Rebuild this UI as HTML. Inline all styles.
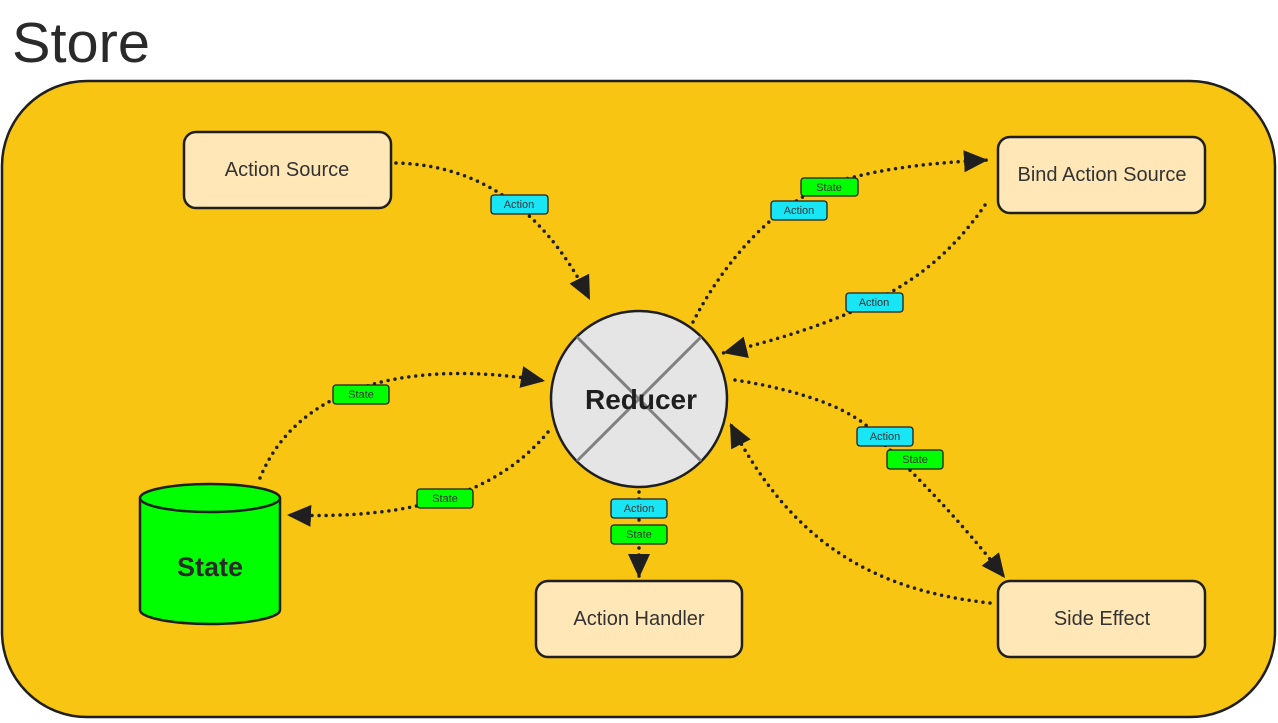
<!DOCTYPE html>
<html><head><meta charset="utf-8"><style>
html,body{margin:0;padding:0;background:#fff;width:1278px;height:723px;overflow:hidden}
svg{display:block}
text{font-family:"Liberation Sans",sans-serif}
</style></head><body>
<svg width="1278" height="723" viewBox="0 0 1278 723" xmlns="http://www.w3.org/2000/svg">
<defs>
<marker id="a" markerUnits="userSpaceOnUse" markerWidth="26" markerHeight="26" viewBox="0 0 26 26" refX="24" refY="13" orient="auto">
<path d="M0,2 L24,13 L0,24 Z" fill="#1f1f1f"/>
</marker>
</defs>
<text x="12" y="62" font-size="57" fill="#2a2a2a" textLength="138" lengthAdjust="spacingAndGlyphs">Store</text>
<rect x="2" y="81" width="1273" height="636" rx="85" fill="#F8C513" stroke="#1f1f1f" stroke-width="2.5"/>
<g fill="none" stroke="#1f1f1f" stroke-width="3.5" stroke-linecap="round" stroke-dasharray="0 7">
<path d="M396,163 C470,165 540,200 590,300" marker-end="url(#a)"/>
<path d="M693,322 C730,250 790,190 850,178 C900,165 950,162 988,160" marker-end="url(#a)"/>
<path d="M985,205 C940,270 880,315 723,353" marker-end="url(#a)"/>
<path d="M735,380 C800,390 860,410 880,440 C920,480 960,520 1005,578" marker-end="url(#a)"/>
<path d="M990,603 C870,590 790,540 730,423" marker-end="url(#a)"/>
<path d="M639,492 L639,578" marker-end="url(#a)"/>
<path d="M260,478 C300,380 420,360 545,381" marker-end="url(#a)"/>
<path d="M548,432 C500,490 420,520 287,515" marker-end="url(#a)"/>
</g>
<circle cx="639" cy="399" r="88" fill="#E5E5E5" stroke="#1f1f1f" stroke-width="2.5"/>
<g stroke="#808080" stroke-width="3"><line x1="577" y1="337" x2="701" y2="461"/><line x1="701" y1="337" x2="577" y2="461"/></g>
<text x="641" y="409" font-size="28" font-weight="bold" text-anchor="middle" fill="#1f1f1f">Reducer</text>
<g fill="#FFE7B8" stroke="#1f1f1f" stroke-width="2.5">
<rect x="184" y="132" width="207" height="76" rx="12"/>
<rect x="998" y="137" width="207" height="76" rx="12"/>
<rect x="536" y="581" width="206" height="76" rx="12"/>
<rect x="998" y="581" width="207" height="76" rx="12"/>
</g>
<g font-size="20" fill="#333" text-anchor="middle">
<text x="287" y="176">Action Source</text>
<text x="1102" y="181">Bind Action Source</text>
<text x="639" y="625">Action Handler</text>
<text x="1102" y="625">Side Effect</text>
</g>
<path d="M140,498 L140,610 A70,14 0 0 0 280,610 L280,498" fill="#00FF00" stroke="#1f1f1f" stroke-width="2.5"/>
<ellipse cx="210" cy="498" rx="70" ry="14" fill="#00FF00" stroke="#1f1f1f" stroke-width="2.5"/>
<text x="210" y="576" font-size="27" font-weight="bold" text-anchor="middle" fill="#2a2a2a">State</text>
<g stroke="#1f1f1f" stroke-width="1.3" font-size="11" text-anchor="middle">
<rect x="491" y="195" width="57" height="19" rx="3" fill="#19E6F5"/><text x="519" y="208" fill="#333" stroke="none">Action</text>
<rect x="801" y="178" width="57" height="18" rx="3" fill="#00FF00"/><text x="829" y="191" fill="#333" stroke="none">State</text>
<rect x="771" y="201" width="56" height="19" rx="3" fill="#19E6F5"/><text x="799" y="214" fill="#333" stroke="none">Action</text>
<rect x="846" y="293" width="57" height="19" rx="3" fill="#19E6F5"/><text x="874" y="306" fill="#333" stroke="none">Action</text>
<rect x="857" y="427" width="56" height="19" rx="3" fill="#19E6F5"/><text x="885" y="440" fill="#333" stroke="none">Action</text>
<rect x="887" y="450" width="56" height="19" rx="3" fill="#00FF00"/><text x="915" y="463" fill="#333" stroke="none">State</text>
<rect x="611" y="499" width="56" height="19" rx="3" fill="#19E6F5"/><text x="639" y="512" fill="#333" stroke="none">Action</text>
<rect x="611" y="525" width="56" height="19" rx="3" fill="#00FF00"/><text x="639" y="538" fill="#333" stroke="none">State</text>
<rect x="333" y="385" width="56" height="19" rx="3" fill="#00FF00"/><text x="361" y="398" fill="#333" stroke="none">State</text>
<rect x="417" y="489" width="56" height="19" rx="3" fill="#00FF00"/><text x="445" y="502" fill="#333" stroke="none">State</text>
</g>
</svg>
</body></html>
